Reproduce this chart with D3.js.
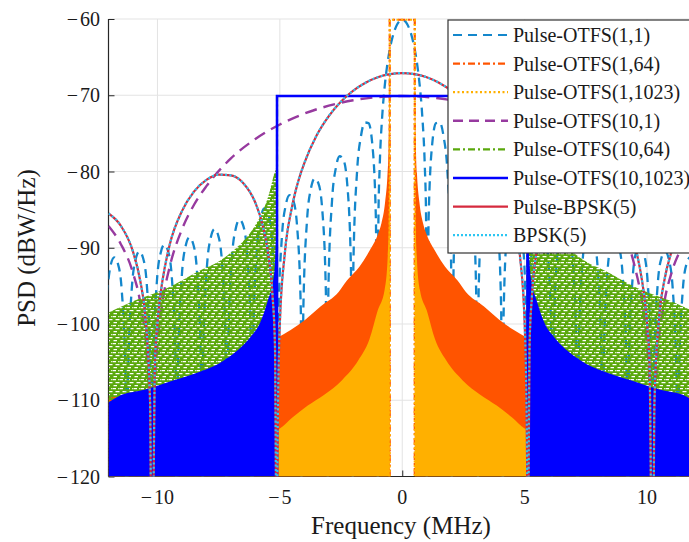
<!DOCTYPE html>
<html>
<head>
<meta charset="utf-8">
<script src="https://cdn.jsdelivr.net/npm/d3@7"></script>
<style>
  html, body { margin: 0; padding: 0; background: #fff; }
  svg { display: block; font-family: "Liberation Serif", "DejaVu Serif", serif; }
  text { font-family: "Liberation Serif", "DejaVu Serif", serif; fill: #1a1a1a; }
</style>
</head>
<body>
<svg id="chart" width="689" height="542"></svg>
<script>
// Power spectral densities (dBW/Hz) versus frequency offset (MHz).
// All spectra are even in f, so one-sided values are listed and mirrored.
const xTicks = [-10, -5, 0, 5, 10];
const yTicks = [-120, -110, -100, -90, -80, -70, -60];
const seriesNames = ["Pulse-OTFS(1,1)", "Pulse-OTFS(1,64)", "Pulse-OTFS(1,1023)", "Pulse-OTFS(10,1)",
                     "Pulse-OTFS(10,64)", "Pulse-OTFS(10,1023)", "Pulse-BPSK(5)", "BPSK(5)"];

// Pulse-OTFS(1,1): sinc-shaped lobes (nulls listed as -140, below the axis floor)
const otfs1x1Freq = [0, 0.102, 0.205, 0.307, 0.409, 0.512, 0.614, 0.716, 0.818, 0.921, 0.972, 1.023,
  1.074, 1.228, 1.381, 1.535, 1.688, 1.841, 1.995, 2.046,
  2.097, 2.251, 2.404, 2.558, 2.711, 2.864, 3.018, 3.069,
  3.120, 3.274, 3.427, 3.581, 3.734, 3.887, 4.041, 4.092,
  4.143, 4.297, 4.450, 4.604, 4.757, 4.910, 5.064, 5.115,
  5.166, 5.320, 5.473, 5.627, 5.780, 5.933, 6.087, 6.138,
  6.189, 6.343, 6.496, 6.650, 6.803, 6.956, 7.110, 7.161,
  7.212, 7.366, 7.519, 7.673, 7.826, 7.979, 8.133, 8.184,
  8.235, 8.389, 8.542, 8.696, 8.849, 9.002, 9.156, 9.207,
  9.258, 9.412, 9.565, 9.719, 9.872, 10.025, 10.179, 10.230,
  10.281, 10.435, 10.588, 10.742, 10.895, 11.048, 11.202, 11.253,
  11.304, 11.458, 11.611, 11.765, 11.918, 12.071];
const otfs1x1Psd = [-60.1, -60.24, -60.68, -61.43, -62.52, -64.02, -66.04, -68.79, -72.72, -79.3, -85.7, -140,
  -86.58, -76.25, -73.65, -73.57, -75.39, -79.77, -91.95, -140,
  -92.39, -81.51, -78.46, -78.0, -79.51, -83.61, -95.55, -140,
  -95.84, -84.77, -81.54, -80.92, -82.29, -86.26, -98.09, -140,
  -98.3, -87.13, -83.81, -83.11, -84.39, -88.29, -100.05, -140,
  -100.22, -88.98, -85.61, -84.85, -86.08, -89.93, -101.64, -140,
  -101.79, -90.51, -87.1, -86.3, -87.5, -91.31, -102.99, -140,
  -103.12, -91.81, -88.37, -87.54, -88.72, -92.51, -104.16, -140,
  -104.27, -92.94, -89.48, -88.63, -89.78, -93.55, -105.19, -140,
  -105.29, -93.94, -90.46, -89.6, -90.73, -94.49, -106.11, -140,
  -106.2, -94.84, -91.34, -90.47, -91.59, -95.33, -106.94, -140,
  -107.02, -95.65, -92.14, -91.26, -92.37, -96.1];

// Pulse-OTFS(1,64): flat in-band level, then the envelope of its dense side lobes
const otfs1x64Freq = [0.5115, 0.53, 0.56, 0.6, 0.7, 0.85, 1.0, 1.32, 1.75, 2.26, 2.6, 3.34, 3.95, 4.56, 5.1, 6, 7, 8, 9, 10, 11, 12];
const otfs1x64Psd  = [-60.1, -70, -77, -80.2, -84, -86.8, -88.3, -90.3, -92.5, -94.3, -95.8, -97.7, -99.4, -100.8, -101.8, -103.2, -104.7, -106, -107.2, -108.2, -109, -109.6];

// Pulse-OTFS(1,1023)
const otfs1x1023Freq = [0.5115, 0.525, 0.55, 0.6, 0.72, 1.0, 1.34, 1.8, 2.47, 3.2, 3.86, 4.5, 5.0, 5.2, 7, 9, 12];
const otfs1x1023Psd  = [-60.1, -78, -87, -91.5, -95.5, -98.2, -102, -104.8, -107.4, -109.3, -110.7, -112.3, -113.7, -114, -116.5, -118, -120];

// Pulse-OTFS(10,1)
const otfs10x1Freq = [0, 1, 2, 3, 4, 5, 6, 7, 8, 8.5, 9, 9.5, 9.8, 10.0, 10.1, 10.23, 10.4, 10.7, 11, 11.5, 12];
const otfs10x1Psd  = [-70.1, -70.24, -70.65, -71.37, -72.41, -73.83, -75.74, -78.29, -81.92, -84.33, -87.6, -92.5, -97.28, -102.9, -107.9, -140, -105.8, -97.3, -93.3, -89.5, -87.15];

// Pulse-OTFS(10,64): flat level inside the band, side-lobe envelope outside it
const otfs10x64Freq = [5.115, 5.13, 5.25, 5.45, 5.67, 6.0, 6.4, 6.87, 7.5, 8.2, 9.55, 10.9, 12];
const otfs10x64Psd  = [-70.1, -79, -80.5, -83, -85, -87, -88.8, -90.3, -91.8, -92.9, -95.2, -96.9, -98.5];

// Pulse-OTFS(10,1023)
const otfs10x1023Freq = [5.115, 5.13, 5.2, 5.27, 5.5, 5.83, 6.2, 7.2, 8.55, 9.55, 10.5, 11.6, 12];
const otfs10x1023Psd  = [-70.1, -86, -92, -94.2, -97, -100, -101.7, -104.6, -106.6, -107.6, -108.6, -109.5, -110.3];

// BPSK(5) (the pulse-shaped BPSK(5) spectrum coincides with it)
const bpsk5Freq = [0, 0.5, 1, 1.5, 2, 2.5, 3, 3.5, 4, 4.25, 4.5, 4.8, 5.0, 5.1, 5.115, 5.2, 5.3, 5.5, 5.7, 6, 6.5, 7, 7.5, 8, 8.5, 9, 9.5, 9.8, 9.9, 10.0, 10.1, 10.23, 10.3, 10.5, 10.7, 11, 11.5, 12];
const bpsk5Psd  = [-67.09, -67.23, -67.64, -68.36, -69.4, -70.82, -72.73, -75.28, -78.9, -81.3, -84.6, -90.8, -99.9, -117.7, -140, -102.8, -96.25, -90.3, -87.07, -84.1, -81.5, -80.5, -80.4, -81.1, -82.6, -85.2, -89.6, -94.4, -96.7, -99.9, -104.9, -140, -110.4, -98.9, -94.4, -90.5, -87.1, -85.5];

// ---- helpers ----
function mirrored(freq, psd) {
  const pts = [];
  for (let i = freq.length - 1; i >= 0; i--) if (freq[i] !== 0) pts.push([-freq[i], psd[i]]);
  for (let i = 0; i < freq.length; i++) pts.push([freq[i], psd[i]]);
  return pts;
}
function sidePoints(freq, psd, sign) {
  const pts = freq.map((f, i) => [sign * f, psd[i]]);
  return sign < 0 ? pts.reverse() : pts;
}

const svg = d3.select("#chart");
const x = d3.scaleLinear().domain([-12, 12]).range([108.5, 696]);
const y = d3.scaleLinear().domain([-120, -60]).range([476.5, 19]);
const [x0, x1] = x.range();
const [yb, yt] = y.range();

const colors = {
  c11: "#1487cc", c164: "#ff5400", c11023: "#ffb000", c101: "#973a9f",
  c1064: "#5aa80c", c101023: "#0000ff", pbpsk: "#d62a3e", bpsk: "#2cc6f2"
};

const defs = svg.append("defs");
defs.append("clipPath").attr("id", "plotClip")
  .append("rect").attr("x", x0).attr("y", yt - 2).attr("width", x1 - x0).attr("height", yb - yt + 2);

// stipple texture for the densely oscillating dash-dot spectrum (gaps stay transparent)
const pat = defs.append("pattern").attr("id", "stipple").attr("patternUnits", "userSpaceOnUse")
  .attr("width", 7).attr("height", 9);
pat.append("path")
  .attr("d", "M0,0H7V9H0Z M0.5,1H4V2.3H0.5Z M3.5,4H7V5.3H3.5Z M0,4H0.5V5.3H0Z M1.5,7H5V8.3H1.5Z M6,1H6.8V2.3H6Z")
  .attr("fill", colors.c1064).attr("fill-rule", "evenodd");

// ---- grid and axes (beneath the data) ----
const grid = svg.append("g");
grid.selectAll("line.gx").data(xTicks).join("line")
  .attr("x1", d => x(d)).attr("x2", d => x(d)).attr("y1", yt).attr("y2", yb)
  .attr("stroke", "#e3e3e3").attr("stroke-width", 1);
grid.selectAll("line.gy").data(yTicks).join("line")
  .attr("x1", x0).attr("x2", x1).attr("y1", d => y(d)).attr("y2", d => y(d))
  .attr("stroke", "#e3e3e3").attr("stroke-width", 1);

const axisColor = "#262626";
const yAxis = svg.append("g").attr("transform", `translate(${x0},0)`)
  .call(d3.axisRight(y).tickValues(yTicks).tickSize(6).tickFormat(""));
const xAxis = svg.append("g").attr("transform", `translate(0,${yb})`)
  .call(d3.axisTop(x).tickValues(xTicks).tickSize(6).tickFormat(""));
[yAxis, xAxis].forEach(g => {
  g.select(".domain").attr("stroke", axisColor).attr("stroke-width", 1.2);
  g.selectAll(".tick line").attr("stroke", axisColor).attr("stroke-width", 1);
});
xAxis.select(".domain").attr("d", `M${x0},0H${x1}`);
yAxis.select(".domain").attr("d", `M0,${yb}V${yt}`);

// ---- data ----
const plot = svg.append("g").attr("clip-path", "url(#plotClip)");
const line = d3.line().x(d => x(d[0])).y(d => y(d[1])).curve(d3.curveMonotoneX);
const area = d3.area().x(d => x(d[0])).y0(yb).y1(d => y(d[1])).curve(d3.curveMonotoneX);

function bandFill(freq, psd, fill) {
  [-1, 1].forEach(s => {
    plot.append("path").attr("d", area(sidePoints(freq, psd, s))).attr("fill", fill);
  });
}
function bandOutline(freq, psd, stroke, dash, width) {
  const edge = freq[0], top = psd[0];
  const pts = [[-edge, -120], [-edge, top], [edge, top], [edge, -120]];
  plot.append("path").attr("d", d3.line().x(d => x(d[0])).y(d => y(d[1]))(pts))
    .attr("fill", "none").attr("stroke", stroke).attr("stroke-width", width)
    .attr("stroke-dasharray", dash);
}

// Pulse-OTFS(1,1)
plot.append("path").attr("d", line(mirrored(otfs1x1Freq, otfs1x1Psd)))
  .attr("fill", "none").attr("stroke", colors.c11).attr("stroke-width", 2.3)
  .attr("stroke-dasharray", "9,6");

// Pulse-OTFS(1,64)
bandFill(otfs1x64Freq, otfs1x64Psd, colors.c164);
bandOutline(otfs1x64Freq, otfs1x64Psd, colors.c164, "7,3,2,3", 2.2);

// Pulse-OTFS(1,1023)
bandFill(otfs1x1023Freq, otfs1x1023Psd, colors.c11023);
bandOutline(otfs1x1023Freq, otfs1x1023Psd, colors.c11023, "2,2.5", 2.2);

// Pulse-OTFS(10,1)
plot.append("path").attr("d", line(mirrored(otfs10x1Freq, otfs10x1Psd)))
  .attr("fill", "none").attr("stroke", colors.c101).attr("stroke-width", 2.4)
  .attr("stroke-dasharray", "12,7");

// Pulse-OTFS(10,64)
bandFill(otfs10x64Freq, otfs10x64Psd, "url(#stipple)");
bandOutline(otfs10x64Freq, otfs10x64Psd, colors.c1064, "7,3,2,3", 2.2);

// Pulse-OTFS(10,1023)
bandFill(otfs10x1023Freq, otfs10x1023Psd, colors.c101023);
bandOutline(otfs10x1023Freq, otfs10x1023Psd, colors.c101023, null, 2.6);

// Pulse-BPSK(5) and BPSK(5)
const bpskPts = mirrored(bpsk5Freq, bpsk5Psd);
plot.append("path").attr("d", line(bpskPts))
  .attr("fill", "none").attr("stroke", colors.pbpsk).attr("stroke-width", 2.2);
plot.append("path").attr("d", line(bpskPts))
  .attr("fill", "none").attr("stroke", colors.bpsk).attr("stroke-width", 2.2)
  .attr("stroke-dasharray", "2,2.4");

// ---- tick labels and axis titles ----
function signedLabel(sel, v) {
  if (v < 0) {
    sel.append("tspan").text("\u2212");
    sel.append("tspan").attr("dx", 2).text(String(-v));
  } else sel.text(String(v));
}
const serif = '"Liberation Serif", "DejaVu Serif", serif';
svg.append("g").selectAll("text").data(xTicks).join("text")
  .attr("x", d => x(d)).attr("y", 504)
  .attr("text-anchor", "middle").attr("font-family", serif).style("font-size", "20px")
  .each(function (d) { signedLabel(d3.select(this), d); });
svg.append("g").selectAll("text").data(yTicks).join("text")
  .attr("x", 100).attr("y", d => y(d)).attr("dy", "0.35em")
  .attr("text-anchor", "end").attr("font-family", serif).style("font-size", "20px")
  .each(function (d) { signedLabel(d3.select(this), d); });

svg.append("text").attr("x", 401).attr("y", 534).attr("text-anchor", "middle")
  .attr("font-family", serif).style("font-size", "25px").text("Frequency (MHz)");
svg.append("text").attr("transform", "translate(35,248) rotate(-90)")
  .attr("text-anchor", "middle").attr("font-family", serif).style("font-size", "25px").text("PSD (dBW/Hz)");

// ---- legend ----
const legend = svg.append("g");
legend.append("rect").attr("x", 448).attr("y", 20).attr("width", 260).attr("height", 233)
  .attr("fill", "#fff").attr("stroke", "#333").attr("stroke-width", 1.2);
const legendStyles = [
  { c: colors.c11, dash: "9,6", w: 2.2 },
  { c: colors.c164, dash: "7,3,2,3", w: 2.2 },
  { c: colors.c11023, dash: "2,2.5", w: 2.2 },
  { c: colors.c101, dash: "10,6", w: 2.4 },
  { c: colors.c1064, dash: "7,3,2,3", w: 2.2 },
  { c: colors.c101023, dash: null, w: 2.6 },
  { c: colors.pbpsk, dash: null, w: 2.4 },
  { c: colors.bpsk, dash: "2,2", w: 2.2 }
];
const rowY = i => 35 + i * 28.6;
const items = legend.selectAll("g.item").data(seriesNames).join("g").attr("class", "item");
items.append("line")
  .attr("x1", 453).attr("x2", 508).attr("y1", (d, i) => rowY(i)).attr("y2", (d, i) => rowY(i))
  .attr("stroke", (d, i) => legendStyles[i].c).attr("stroke-width", (d, i) => legendStyles[i].w)
  .attr("stroke-dasharray", (d, i) => legendStyles[i].dash);
items.append("text").attr("x", 513).attr("y", (d, i) => rowY(i)).attr("dy", "0.35em")
  .attr("font-family", serif).style("font-size", "20px").text(d => d);
</script>
</body>
</html>
